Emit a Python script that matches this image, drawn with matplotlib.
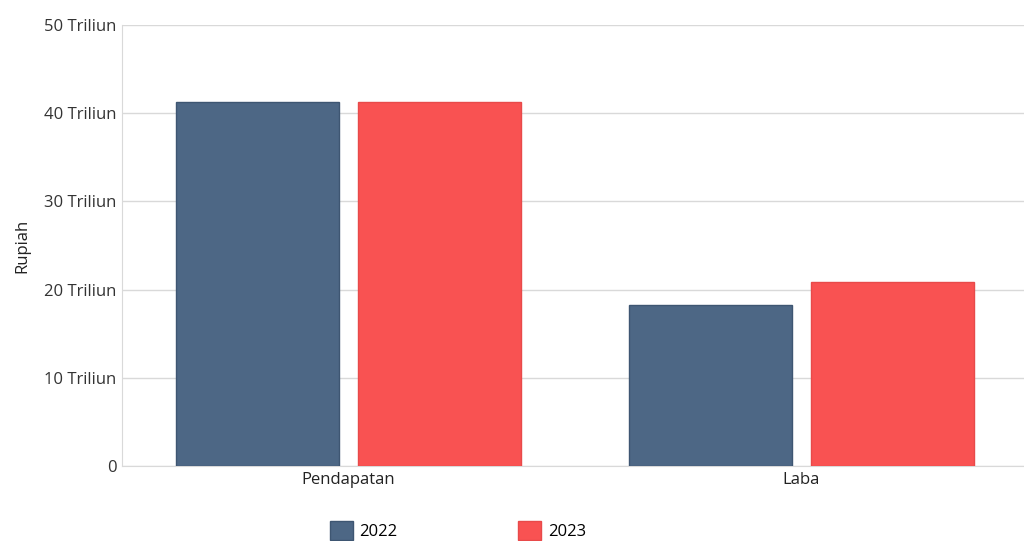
import matplotlib.pyplot as plt
import numpy as np
from matplotlib.patches import Patch

# data (in Triliun Rupiah)
categories = ["Pendapatan", "Laba"]
years = ["2022", "2023"]
values_2022 = [41.3, 18.3]
values_2023 = [41.25, 20.9]
y_ticks = [0, 10, 20, 30, 40, 50]
y_labels = ["0" if v == 0 else f"{v} Triliun" for v in y_ticks]

plt.rcParams['font.family'] = ['Open Sans', 'DejaVu Sans']

blue, red = "#4d6785", "#f95252"
grid_c = "#d9d9d9"

fig = plt.figure(figsize=(10.24, 5.41), dpi=100)
ax = fig.add_axes([122 / 1024, 75 / 541, 906 / 1024, 441 / 541])

x = np.arange(len(categories))
w = 0.36
ax.bar(x - 0.2, values_2022, w, color=blue, edgecolor="#3e5672", linewidth=1, zorder=3)
ax.bar(x + 0.2, values_2023, w, color=red, edgecolor="#e84a4a", linewidth=1, zorder=3)

ax.set_xlim(-0.5, 1.5)
ax.set_ylim(0, 50)
ax.set_yticks(y_ticks)
ax.set_yticklabels(y_labels, fontsize=12, color="#333333")
ax.set_xticks(x)
ax.set_xticklabels(categories, fontsize=12, color="#222222")
ax.tick_params(axis="x", length=0, pad=4)
ax.tick_params(axis="y", length=0, pad=4)
ax.yaxis.grid(True, color=grid_c, linewidth=1, zorder=0)

for s in ["top", "right"]:
    ax.spines[s].set_visible(False)
ax.spines["left"].set_color(grid_c)
ax.spines["bottom"].set_color(grid_c)

ax.set_ylabel("Rupiah", fontsize=12, color="#222222", labelpad=10)

handles = [Patch(facecolor=blue, edgecolor="#3e5672", label=years[0]),
           Patch(facecolor=red, edgecolor="#e84a4a", label=years[1])]
fig.legend(handles=handles, loc="center", bbox_to_anchor=(0.447, 0.02), ncol=2,
           frameon=False, fontsize=12, handlelength=1.4, handleheight=1.4,
           handletextpad=0.4, columnspacing=7.2)

fig.savefig("out.png", dpi=100)
